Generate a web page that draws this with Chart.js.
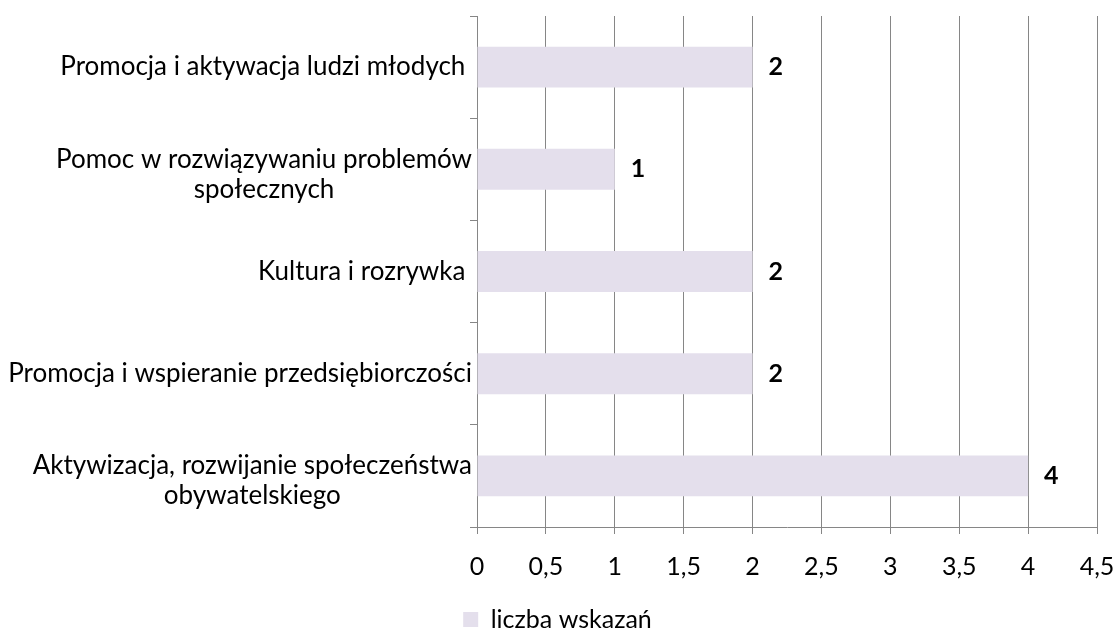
<!DOCTYPE html>
<html>
<head>
<meta charset="utf-8">
<script src="https://cdn.jsdelivr.net/npm/chart.js@4.4.1/dist/chart.umd.min.js"></script>
<style>
  html, body { margin: 0; padding: 0; background: #fff; }
</style>
</head>
<body>
<canvas id="myChart" width="1115" height="628" style="width:1115px;height:628px;display:block"></canvas>
<script>
// dane z wykresu
var kategorie = [
    ['Promocja i aktywacja ludzi młodych '],
    ['Pomoc w rozwiązywaniu problemów', 'społecznych'],
    ['Kultura i rozrywka '],
    ['Promocja i wspieranie przedsiębiorczości'],
    ['Aktywizacja, rozwijanie społeczeństwa', 'obywatelskiego']
];
var wartosci = [2, 1, 2, 2, 4];
var nazwaSerii = 'liczba wskazań';
var osXmin = 0, osXmax = 4.5, osXkrok = 0.5;

var kolorSlupka = '#E4DFEC';
var kolorSiatki = '#868686';
var czcionka = 'Lato, "Open Sans", sans-serif';
var rozmiar = 25;

// etykiety osi Y (wycentrowane linie, blok wyrownany do prawej)
var etykietyY = {
    id: 'etykietyY',
    afterDraw: function (chart) {
        var ctx = chart.ctx;
        var y = chart.scales.y;
        ctx.save();
        ctx.font = '26px ' + czcionka;
        ctx.fillStyle = '#000';
        ctx.textAlign = 'center';
        ctx.textBaseline = 'middle';
        var prawo = y.right - 5;
        var lh = 30;
        for (var i = 0; i < kategorie.length; i++) {
            var linie = kategorie[i];
            var szer = 0;
            for (var k = 0; k < linie.length; k++) {
                szer = Math.max(szer, ctx.measureText(linie[k]).width);
            }
            var srodekX = prawo - szer / 2;
            var cy = y.getPixelForTick(i) + (linie.length > 1 ? 5 : 0);
            var start = cy - (linie.length - 1) * lh / 2;
            for (var k = 0; k < linie.length; k++) {
                ctx.fillText(linie[k], srodekX, start + k * lh);
            }
        }
        ctx.restore();
    }
};

// wartosci przy slupkach
var etykietyWartosci = {
    id: 'etykietyWartosci',
    afterDatasetsDraw: function (chart) {
        var ctx = chart.ctx;
        var meta = chart.getDatasetMeta(0);
        ctx.save();
        ctx.font = 'bold ' + rozmiar + 'px ' + czcionka;
        ctx.fillStyle = '#000';
        ctx.textAlign = 'left';
        ctx.textBaseline = 'middle';
        meta.data.forEach(function (bar, i) {
            ctx.fillText(String(wartosci[i]), bar.x + 16, bar.y);
        });
        ctx.restore();
    }
};

var ctx = document.getElementById('myChart').getContext('2d');
var myChart = new Chart(ctx, {
    type: 'bar',
    data: {
        labels: kategorie,
        datasets: [{
            label: nazwaSerii,
            data: wartosci,
            backgroundColor: kolorSlupka,
            borderWidth: 0,
            barPercentage: 0.8,
            categoryPercentage: 0.5
        }]
    },
    options: {
        indexAxis: 'y',
        responsive: false,
        animation: false,
        layout: { padding: { top: 16, right: 0, bottom: -14, left: 0 } },
        scales: {
            x: {
                min: osXmin,
                max: osXmax,
                border: { color: kolorSiatki, width: 1 },
                grid: { color: kolorSiatki, lineWidth: 1, tickLength: 7 },
                ticks: {
                    stepSize: osXkrok,
                    color: '#000',
                    padding: 18,
                    font: { family: czcionka, size: rozmiar },
                    callback: function (v) { return String(v).replace('.', ','); }
                },
                afterFit: function (scale) { scale.paddingRight = 18; scale.paddingLeft = 0; }
            },
            y: {
                border: { color: kolorSiatki, width: 1 },
                grid: { drawOnChartArea: false, offset: true, color: kolorSiatki, tickLength: 7 },
                ticks: { display: false },
                afterFit: function (scale) { scale.width = 477; }
            }
        },
        plugins: {
            legend: {
                position: 'bottom',
                labels: {
                    color: '#000',
                    boxWidth: 15,
                    boxHeight: 15,
                    padding: 7,
                    font: { family: czcionka, size: rozmiar, lineHeight: 1 }
                }
            },
            tooltip: { enabled: false }
        }
    },
    plugins: [etykietyY, etykietyWartosci]
});
</script>
</body>
</html>
